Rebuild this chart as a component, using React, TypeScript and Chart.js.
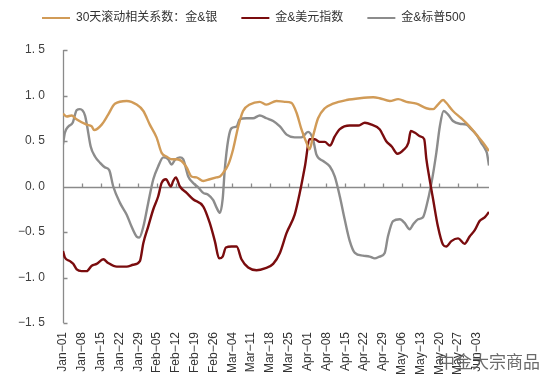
import React, { useEffect, useRef } from "react";
import { Chart, registerables } from "chart.js";

Chart.register(...registerables);

const seriesNames = ["30天滚动相关系数：金&银", "金&美元指数", "金&标普500"];
const seriesColors = ["#D19B57", "#7A0C0E", "#8C8C8C"];

const xTickLabels = [
  "Jan−01", "Jan−08", "Jan−15", "Jan−22", "Jan−29", "Feb−05", "Feb−12", "Feb−19",
  "Feb−26", "Mar−04", "Mar−11", "Mar−18", "Mar−25", "Apr−01", "Apr−08", "Apr−15",
  "Apr−22", "Apr−29", "May−06", "May−13", "May−20", "May−27", "Jun−03",
];
const xTickDays = [0, 7, 14, 21, 28, 35, 42, 49, 56, 63, 70, 77, 84, 91, 98, 105, 112, 119, 126, 133, 140, 147, 154];
const yTickLabels = ["−1. 5", "−1. 0", "−0. 5", "0. 0", "0. 5", "1. 0", "1. 5"];
const watermark = "中金大宗商品";

// Gold & Silver (days since Jan-01)
const silverDays = [0, 1.4, 3.2, 5, 8.8, 10.7, 11.6, 14.4, 16.8, 19.3, 23.7, 27.4, 29.9, 32.3, 34.8, 36.7, 38.5, 40.4, 42.3, 44.1, 46, 47.8, 49.7, 52.2, 54.6, 57.1, 58.4, 59.6, 61.5, 63.3, 65.2, 67, 69.5, 73.2, 75.7, 79.4, 82.5, 85, 86.9, 88.7, 90.6, 91.8, 93, 94.9, 97.4, 100.5, 105.5, 110.4, 115.4, 117.8, 121.6, 124.7, 127.8, 131.5, 135.2, 137.7, 139.5, 141.4, 142.6, 145.1, 148.2, 151.3, 153.8, 156.3, 158.5];
const silverCorr = [0.80, 0.77, 0.78, 0.74, 0.68, 0.66, 0.62, 0.68, 0.79, 0.91, 0.94, 0.90, 0.83, 0.68, 0.54, 0.37, 0.33, 0.30, 0.30, 0.28, 0.21, 0.11, 0.10, 0.06, 0.08, 0.10, 0.11, 0.15, 0.24, 0.41, 0.66, 0.83, 0.90, 0.93, 0.90, 0.94, 0.93, 0.92, 0.81, 0.63, 0.48, 0.41, 0.55, 0.75, 0.86, 0.91, 0.95, 0.97, 0.98, 0.97, 0.94, 0.96, 0.93, 0.91, 0.86, 0.85, 0.90, 0.95, 0.92, 0.83, 0.75, 0.66, 0.57, 0.48, 0.39];

// Gold & USD index
const usdDays = [0, 0.7, 2.6, 3.8, 5.1, 6.9, 8.8, 10.7, 12.5, 15, 16.8, 20, 23.7, 26.1, 28.6, 29.9, 31.7, 33.6, 35.4, 36.7, 38.3, 40.1, 41, 42, 43.5, 46, 48.4, 52.2, 54.6, 56.5, 58.1, 59.4, 60.6, 62.7, 64.6, 66.4, 68.9, 72, 75.1, 78.2, 80.7, 83.2, 86.2, 88.1, 90, 91.8, 93.7, 95.5, 97.4, 99.3, 101.1, 103, 106.7, 109.8, 112.3, 114.8, 117.8, 120.2, 122.3, 124.4, 126.6, 128.5, 129.4, 131, 132.9, 134.4, 135.2, 136.4, 137.7, 139.5, 141.4, 142.6, 144.5, 147, 149.4, 151.3, 153.2, 155, 156.9, 158.5];
const usdCorr = [-0.71, -0.78, -0.82, -0.85, -0.91, -0.93, -0.93, -0.87, -0.85, -0.80, -0.84, -0.88, -0.88, -0.86, -0.82, -0.62, -0.44, -0.25, -0.11, 0.04, 0.08, 0.00, 0.06, 0.10, 0.00, -0.07, -0.14, -0.22, -0.40, -0.60, -0.79, -0.77, -0.67, -0.66, -0.66, -0.80, -0.89, -0.92, -0.90, -0.85, -0.73, -0.51, -0.31, -0.07, 0.22, 0.52, 0.52, 0.49, 0.49, 0.45, 0.55, 0.63, 0.67, 0.67, 0.70, 0.68, 0.63, 0.50, 0.44, 0.36, 0.40, 0.48, 0.61, 0.59, 0.55, 0.52, 0.30, 0.08, -0.14, -0.44, -0.64, -0.66, -0.60, -0.57, -0.63, -0.55, -0.48, -0.38, -0.34, -0.28];

// Gold & S&P 500
const spxDays = [0, 0.7, 2, 3.6, 5.1, 6.3, 8.2, 9, 10.3, 11.9, 13.8, 15.6, 17.2, 18.7, 21.2, 23.7, 25.5, 27.4, 28.4, 29.9, 31.7, 33.6, 35.4, 37.3, 39.1, 40.4, 41.6, 43.5, 44.7, 46.6, 48.4, 50.3, 52.2, 54, 55.9, 57.1, 58.4, 59.4, 60.2, 61.5, 62.7, 64.6, 65.8, 68.3, 70.7, 73.2, 75.7, 78.2, 80.7, 83.2, 86.2, 88.7, 91.2, 93, 94.3, 96.8, 99.3, 101.1, 103, 104.8, 106.7, 108.6, 111.6, 114.1, 116, 117.8, 119.7, 120.9, 122.8, 125.3, 127.1, 129, 130.2, 132.1, 133.9, 135.2, 137.1, 138.9, 140.2, 141.6, 143.3, 145.1, 147.6, 150.1, 151.9, 153.8, 155.6, 156.9, 157.7, 158.5];
const spxCorr = [0.46, 0.59, 0.66, 0.70, 0.84, 0.85, 0.78, 0.66, 0.44, 0.33, 0.26, 0.21, 0.18, 0.00, -0.18, -0.31, -0.44, -0.55, -0.56, -0.44, -0.18, 0.08, 0.22, 0.32, 0.30, 0.24, 0.29, 0.32, 0.30, 0.11, 0.04, -0.01, -0.07, -0.09, -0.15, -0.23, -0.29, -0.14, 0.19, 0.52, 0.64, 0.66, 0.74, 0.75, 0.75, 0.78, 0.75, 0.72, 0.66, 0.57, 0.54, 0.54, 0.60, 0.52, 0.35, 0.28, 0.22, 0.11, -0.11, -0.36, -0.60, -0.73, -0.76, -0.77, -0.79, -0.77, -0.73, -0.55, -0.38, -0.36, -0.40, -0.47, -0.42, -0.36, -0.34, -0.22, 0.04, 0.37, 0.66, 0.83, 0.79, 0.72, 0.69, 0.68, 0.63, 0.57, 0.48, 0.42, 0.37, 0.23];

const FONT = '"Liberation Sans", Arial, "Noto Sans CJK SC", sans-serif';
const AXIS_COLOR = "#8a8a8a";

const toPoints = (xs: number[], ys: number[]) => xs.map((x, i) => ({ x, y: ys[i] }));

const axisDecor = {
  id: "axisDecor",
  beforeDatasetsDraw(chart: any) {
    const { ctx, chartArea, scales } = chart;
    const xs = scales.x;
    const ys = scales.y;
    const y0 = Math.round(ys.getPixelForValue(0)) + 0.5;
    const left = Math.round(chartArea.left) + 0.5;
    ctx.save();
    ctx.strokeStyle = AXIS_COLOR;
    ctx.lineWidth = 1.3;
    ctx.beginPath();
    ctx.moveTo(left, chartArea.top);
    ctx.lineTo(left, chartArea.bottom);
    ctx.moveTo(chartArea.left, y0);
    ctx.lineTo(chartArea.right, y0);
    xs.ticks.forEach((t: any) => {
      const px = Math.round(xs.getPixelForValue(t.value)) + 0.5;
      ctx.moveTo(px, y0);
      ctx.lineTo(px, y0 - 4);
    });
    ys.ticks.forEach((t: any) => {
      const py = Math.round(ys.getPixelForValue(t.value)) + 0.5;
      ctx.moveTo(left, py);
      ctx.lineTo(left + 4, py);
    });
    ctx.stroke();
    ctx.restore();
  },
};

const legendTweak = {
  id: "legendTweak",
  afterInit(chart: any) {
    const lg = chart.legend;
    if (!lg) return;
    const orig = lg.fit.bind(lg);
    lg.fit = function () {
      const mw = this.maxWidth;
      this.maxWidth = 2000;
      orig();
      this.maxWidth = mw;
      this.width = mw;
      this.height = 62;
    };
  },
  beforeDraw(chart: any) {
    const lg = chart.legend;
    if (lg && lg.lineWidths && lg.lineWidths.length) {
      lg.right = chart.width;
      lg.lineWidths[0] = lg.left + 24 + lg.right - 2 * 42;
    }
  },
};

const watermarkPlugin = {
  id: "watermark",
  afterDraw(chart: any) {
    const { ctx } = chart;
    ctx.save();
    ctx.font = '17px "Noto Sans CJK SC", sans-serif';
    ctx.fillStyle = "rgba(90,90,90,0.9)";
    ctx.textAlign = "left";
    ctx.textBaseline = "middle";
    ctx.fillText(watermark, 438, 362);
    ctx.restore();
  },
};

export default function App() {
  const canvasRef = useRef<HTMLCanvasElement | null>(null);

  useEffect(() => {
    if (!canvasRef.current) return;
    Chart.defaults.font.family = FONT;
    const mk = (i: number, xs: number[], ys: number[]) => ({
      label: seriesNames[i],
      data: toPoints(xs, ys),
      borderColor: seriesColors[i],
      backgroundColor: seriesColors[i],
      borderWidth: 2.4,
      pointRadius: 0,
      cubicInterpolationMode: "monotone" as const,
      fill: false,
    });
    const chart = new Chart(canvasRef.current, {
      type: "line",
      data: {
        datasets: [
          mk(0, silverDays, silverCorr),
          mk(1, usdDays, usdCorr),
          mk(2, spxDays, spxCorr),
        ],
      },
      options: {
        animation: false,
        responsive: true,
        maintainAspectRatio: false,
        layout: { padding: { top: -12, right: 61, bottom: 0, left: 0 } },
        plugins: {
          tooltip: { enabled: false },
          legend: {
            display: true,
            position: "top",
            labels: {
              boxWidth: 28,
              boxHeight: 2,
              padding: 24,
              color: "#333333",
              font: { size: 12, family: FONT },
              generateLabels: (c: any) =>
                Chart.defaults.plugins.legend.labels
                  .generateLabels(c)
                  .map((it: any) => ({ ...it, fillStyle: it.strokeStyle, lineWidth: 0 })),
            },
          },
        },
        scales: {
          x: {
            type: "linear",
            min: 0,
            max: 158.5,
            grid: { display: false, drawTicks: false },
            border: { display: false },
            afterBuildTicks: (scale: any) => {
              scale.ticks = xTickDays.map((v) => ({ value: v }));
            },
            afterFit: (scale: any) => {
              scale.height = 59;
            },
            ticks: {
              autoSkip: false,
              minRotation: 90,
              maxRotation: 90,
              padding: 9,
              color: "#333333",
              font: { size: 12, family: FONT },
              callback: (_v: any, i: number) => xTickLabels[i],
            },
          },
          y: {
            type: "linear",
            min: -1.5,
            max: 1.5,
            grid: { display: false, drawTicks: false },
            border: { display: false },
            afterFit: (scale: any) => {
              scale.width = 63;
            },
            ticks: {
              stepSize: 0.5,
              padding: 18,
              color: "#404040",
              font: { size: 12, family: FONT },
              callback: (_v: any, i: number) => yTickLabels[i],
            },
          },
        },
      },
      plugins: [axisDecor, legendTweak, watermarkPlugin],
    });
    return () => chart.destroy();
  }, []);

  return (
    <div style={{ position: "fixed", left: 0, top: 0, width: 550, height: 382, background: "#ffffff" }}>
      <canvas ref={canvasRef} />
    </div>
  );
}
